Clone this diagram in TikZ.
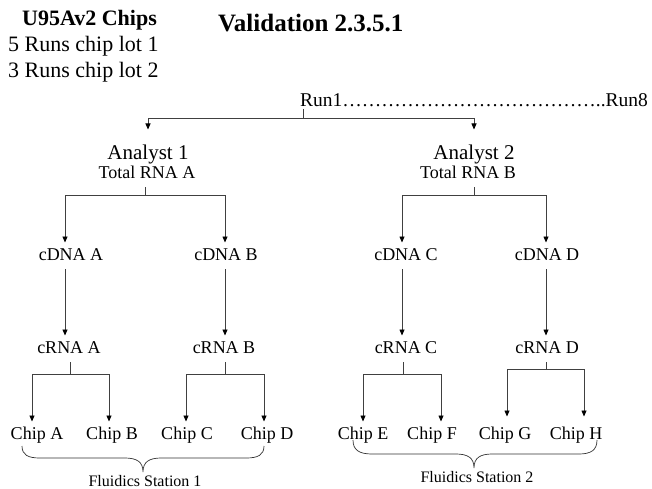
\documentclass[tikz,border=0pt]{standalone}
\usepackage{fontspec}
\setmainfont{Liberation Serif}
\usetikzlibrary{arrows.meta}
\newcommand\myell{…}
\begin{document}
\begin{tikzpicture}[x=1pt,y=-1pt,
  lbl/.style={inner sep=0pt, outer xsep=0pt, outer ysep=5pt, anchor=base,
    font=\fontsize{18}{20}\selectfont, text height=12.5pt, text depth=4pt},
  big/.style={lbl, font=\fontsize{21}{24}\selectfont, text height=14.5pt, outer ysep=16pt},
  head/.style={inner sep=0pt, anchor=base west},
  ln/.style={draw=black!75, line width=0.8pt},
  arr/.style={ln, -{Triangle[length=6pt,width=5pt,color=black]}},
  brc/.style={draw=black!80, line width=0.7pt}
]
\useasboundingbox (0,0) rectangle (652,489);

% headings
\node[head, font=\fontsize{22}{24}\selectfont\bfseries] (chips) at (22,26) {U95Av2 Chips};
\node[head, font=\fontsize{25}{28}\selectfont\bfseries] (title) at (218,32) {Validation 2.3.5.1};
\node[head, font=\fontsize{22}{24}\selectfont] (lot1) at (8,52) {5 Runs chip lot 1};
\node[head, font=\fontsize{22}{24}\selectfont] (lot2) at (8,78) {3 Runs chip lot 2};
\node[lbl, font=\fontsize{19.5}{22}\selectfont, text height=13pt, text depth=1pt, outer ysep=1pt] (run) at (474,107)
  {Run1\myell\myell\myell\myell\myell\myell\myell\myell\myell\myell\myell\myell\myell..Run8};

% analysts
\node[big] (an1) at (148,159) {Analyst 1};
\node[big] (an2) at (474,159) {Analyst 2};
\node[lbl] (tA) at (147,178) {Total RNA A};
\node[lbl] (tB) at (468,178) {Total RNA B};

% cDNA
\node[lbl] (cA) at (71,260) {cDNA A};
\node[lbl] (cB) at (226,260) {cDNA B};
\node[lbl] (cC) at (406,260) {cDNA C};
\node[lbl] (cD) at (547,260) {cDNA D};

% cRNA
\node[lbl] (rA) at (69,353) {cRNA A};
\node[lbl] (rB) at (224,353) {cRNA B};
\node[lbl] (rC) at (406,353) {cRNA C};
\node[lbl] (rD) at (547,353) {cRNA D};

% chips
\node[lbl] (chA) at (37,439) {Chip A};
\node[lbl] (chB) at (112,439) {Chip B};
\node[lbl] (chC) at (187,439) {Chip C};
\node[lbl] (chD) at (267,439) {Chip D};
\node[lbl] (chE) at (363,439) {Chip E};
\node[lbl] (chF) at (432,439) {Chip F};
\node[lbl] (chG) at (505,439) {Chip G};
\node[lbl] (chH) at (576,439) {Chip H};

% fluidics labels
\node[lbl, font=\fontsize{16}{18}\selectfont] (fs1) at (145,486) {Fluidics Station 1};
\node[lbl, font=\fontsize{16}{18}\selectfont] (fs2) at (477,482) {Fluidics Station 2};

% junctions
\coordinate (j0) at (303,118);
\coordinate (j1) at (145,195);
\coordinate (j2) at (70,374);
\coordinate (j3) at (225,374);
\coordinate (j4) at (474,195);
\coordinate (j5) at (403,374);
\coordinate (j6) at (546,369);

% run -> analysts
\draw[ln] (run.south -| j0) -- (j0);
\draw[arr] (j0) -| ([yshift=-1pt]an1.north);
\draw[arr] (j0) -| ([yshift=-1pt]an2.north);

% analyst 1
\draw[ln] (tA.south -| j1) -- (j1);
\draw[arr] (j1) -| ([xshift=-6pt]cA.north);
\draw[arr] (j1) -| ([xshift=-1pt]cB.north);
\draw[arr] ([xshift=-6pt]cA.south) -- ([xshift=-4pt]rA.north);
\draw[arr] ([xshift=-1pt]cB.south) -- ([xshift=1pt]rB.north);
\draw[ln] (rA.south -| j2) -- (j2);
\draw[arr] (j2) -| ([xshift=-5pt]chA.north);
\draw[arr] (j2) -| ([xshift=-3pt]chB.north);
\draw[ln] (rB.south -| j3) -- (j3);
\draw[arr] (j3) -| ([xshift=-1pt]chC.north);
\draw[arr] (j3) -| ([xshift=-3pt]chD.north);

% analyst 2
\draw[ln] (tB.south -| j4) -- (j4);
\draw[arr] (j4) -| ([xshift=-4pt]cC.north);
\draw[arr] (j4) -| ([xshift=-1pt]cD.north);
\draw[arr] ([xshift=-4pt]cC.south) -- ([xshift=-4pt]rC.north);
\draw[arr] ([xshift=-1pt]cD.south) -- ([xshift=-1pt]rD.north);
\draw[ln] (rC.south -| j5) -- (j5);
\draw[arr] (j5) -| (chE.north);
\draw[arr] (j5) -| ([xshift=9pt]chF.north);
\draw[ln] (rD.south -| j6) -- (j6);
\draw[arr] (j6) -| ([xshift=2pt,yshift=5pt]chG.north);
\draw[arr] (j6) -| ([xshift=8pt,yshift=5pt]chH.north);

% braces
\draw[brc] (22,446) .. controls (22,455) and (28,458) .. (40,458) -- (125,458)
  .. controls (137,458) and (143,462) .. (143,472)
  .. controls (143,462) and (149,458) .. (161,458) -- (246,458)
  .. controls (258,458) and (264,455) .. (264,446);
\draw[brc] (353,440) .. controls (353,450) and (359,454) .. (372,454) -- (456,454)
  .. controls (468,454) and (474,458) .. (474,468)
  .. controls (474,458) and (480,454) .. (492,454) -- (579,454)
  .. controls (591,454) and (597,450) .. (597,440);
\end{tikzpicture}
\end{document}
